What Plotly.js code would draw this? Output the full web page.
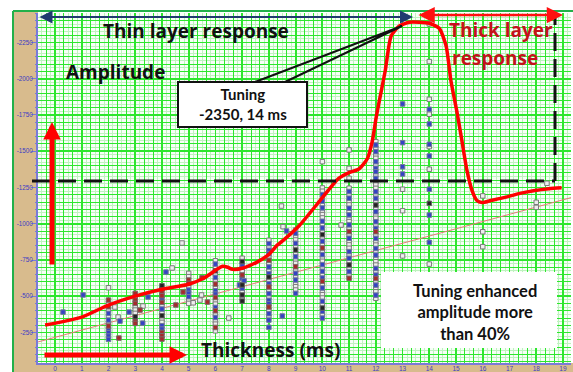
<!DOCTYPE html>
<html><head><meta charset="utf-8">
<script src="https://cdn.plot.ly/plotly-3.0.1.min.js"></script>
<style>html,body{margin:0;padding:0;background:#fff;}#chart{width:573px;height:372px;}</style>
</head><body><div id="chart"></div>
<script>
// ---------- data ----------
const xTickVals = [0,1,2,3,4,5,6,7,8,9,10,11,12,13,14,15,16,17,18,19];
const xTickText = ["0","1","2","3","4","5","6","7","8","9","10","11","12","13","14","15","16","17","18","19"];
const yTickVals = [-250,-500,-750,-1000,-1250,-1500,-1750,-2000,-2250];
const yTickText = ["-250","-500","-750","-1000","-1250","-1500","-1750","-2000","-2250"];

// red tuning curve (thickness ms, amplitude)
const curveX = [-0.37,0.3,1.0,2.0,3.0,4.0,5.0,5.56,6.06,6.27,6.46,6.64,7.0,7.54,8.0,8.3,8.4,9.14,10.0,10.6,11.0,11.38,11.68,11.87,12.01,12.13,12.35,12.57,12.87,13.25,13.62,14.0,14.37,14.63,14.81,15.04,15.22,15.41,15.6,15.78,15.97,16.3,16.79,17.35,17.9,18.47,18.95];
const curveY = [-302,-325,-356,-439,-501,-549,-583,-624,-686,-707,-700,-686,-693,-734,-789,-851,-865,-988,-1180,-1311,-1352,-1379,-1448,-1572,-1730,-1847,-2053,-2293,-2362,-2389,-2389,-2382,-2348,-2225,-1984,-1765,-1572,-1366,-1228,-1160,-1146,-1160,-1180,-1208,-1228,-1242,-1248];

// thin linear trend line
const trendX = [-0.64, 19.3];
const trendY = [-185, -1180];

// measured amplitude columns (colour codes: g grey, b blue, r red, k black)
const col2Y = [-559,-474,-451,-428,-405,-382,-359,-336,-313,-295,-272,-249,-226,-203];
const col2C = "grgrgbgbgrbbbb";
const col3Y = [-520,-497,-474,-451,-428,-405,-382,-359,-336,-313];
const col3C = "rgrrgggkrr";
const col4Y = [-573,-550,-527,-504,-481,-458,-435,-412,-389,-366,-343,-320,-297,-274,-251,-228,-205];
const col4C = "krrrbrgbgkggbbrrr";
const col5Y = [-658,-635,-612,-589,-566,-543,-520,-497,-474,-451];
const col5C = "ggrrgbbbgg";
const col6Y = [-745,-722,-699,-676,-653,-630,-607,-584,-561,-538,-515,-492,-469,-446,-423,-400,-377,-354,-331,-308,-285,-262];
const col6C = "gbgkgbgrgbbrggbrgbggrg";
const col7Y = [-762,-739,-716,-693,-670,-647,-624,-601,-578,-555,-532,-509,-486,-467];
const col7C = "gkbggrbgkbgkgk";
const col8Y = [-886,-863,-840,-817,-794,-771,-748,-725,-702,-679,-656,-633,-610,-587,-564,-541,-518,-495,-472,-449,-426,-403,-380,-357,-336,-286];
const col8C = "gbgbbgrgbgbkgbrgbgbbrgbgbb";
const col9Y = [-957,-934,-911,-888,-865,-842,-819,-796,-773,-750,-727,-704,-681,-658,-635,-612,-589,-566,-543,-520];
const col9C = "gbggbgkgbggrgbgbgggb";
const col10Y = [-1428,-1247,-1224,-1201,-1178,-1155,-1132,-1109,-1086,-1063,-1040,-1017,-994,-971,-948,-925,-902,-879,-856,-833,-810,-787,-764,-741,-718,-695,-672,-649,-626,-603,-580,-557,-534,-511,-488,-465,-442,-419,-396,-373,-350];
const col10C = "gggbgbgbgggbgbgkgbgrgbggbgbgbrgbgggbgkbgb";
const col11Y = [-1509,-1382,-1313,-1245,-1222,-1199,-1176,-1153,-1130,-1107,-1084,-1061,-1038,-1015,-992,-969,-946,-923,-900,-877,-854,-831,-808,-785,-762,-739,-716,-693,-670,-647,-624];
const col11C = "ggggbgbggbgbggbgrgbgggbgbgkgbgr";
const col12Y = [-1566,-1543,-1520,-1497,-1474,-1451,-1428,-1405,-1382,-1359,-1336,-1313,-1290,-1267,-1244,-1221,-1198,-1175,-1152,-1129,-1106,-1083,-1060,-1037,-1014,-991,-968,-945,-922,-899,-876,-853,-830,-807,-784,-761,-738,-715,-692,-669,-646,-623,-600,-577,-554,-531,-508,-486];
const col12C = "gbgbggbgbbgbgggbgbgkgbggbgbrgbggbgbgggbgbrgbggbg";
const col13Y = [-1826,-1559,-1393,-1343,-1238,-1090,-778];
const col13C = "bbbbggg";
const col14Y = [-2378,-2118,-1858,-1789,-1755,-1688,-1548,-1532,-1467,-1376,-1238,-1141,-1060,-872,-722];
const col14C = "gggbgbbgbgbkbbg";
const col16Y = [-1192,-945,-842];
const col16C = "ggg";
const col18Y = [-1148,-1113];
const col18C = "gg";
const colX = [2,3,4,5,6,7,8,9,10,11,12,13,14,16,18];

// scattered single measurements
const scatX = [0.30,1.05,2.24,2.36,2.39,2.43,2.77,3.18,3.28,3.29,3.48,4.15,4.38,4.52,4.75,4.79,5.17,5.42,5.48,5.50,5.70,6.50,6.90,7.07,8.47,8.53,8.66,8.50,10.7,18.4];
const scatY = [-391,-509,-426,-357,-212,-329,-391,-405,-315,-433,-495,-667,-695,-440,-867,-529,-455,-474,-509,-628,-460,-350,-578,-607,-1122,-980,-950,-364,-991,-1279];
const scatC = "bbggrbbrbgbbgrgrgggrrgbbggbbgg";

// ---------- build marker traces ----------
const colsY = [col2Y,col3Y,col4Y,col5Y,col6Y,col7Y,col8Y,col9Y,col10Y,col11Y,col12Y,col13Y,col14Y,col16Y,col18Y];
const colsC = [col2C,col3C,col4C,col5C,col6C,col7C,col8C,col9C,col10C,col11C,col12C,col13C,col14C,col16C,col18C];
const groups = {g:{x:[],y:[]}, b:{x:[],y:[]}, r:{x:[],y:[]}, k:{x:[],y:[]}};
colsY.forEach((ys,i)=>{ ys.forEach((v,j)=>{ const c = groups[colsC[i][j]] ? colsC[i][j] : 'g'; groups[c].x.push(colX[i]); groups[c].y.push(v); }); });
scatX.forEach((xv,j)=>{ const c = groups[scatC[j]] ? scatC[j] : 'g'; groups[c].x.push(xv); groups[c].y.push(scatY[j]); });
const styles = {
  g:{color:'#eeeeee', line:'#7a7a7a'},
  b:{color:'#3442c4', line:'#707a9a'},
  r:{color:'#a52a2a', line:'#7a6a6a'},
  k:{color:'#222222', line:'#666666'}
};

const traces = [];
traces.push({x:[null],y:[null],xaxis:'x2',yaxis:'y2',mode:'markers',hoverinfo:'skip',showlegend:false});
traces.push({x:trendX,y:trendY,mode:'lines',line:{color:'#e87878',width:1},hoverinfo:'skip',showlegend:false});
['g','b','r','k'].forEach(k=>{
  traces.push({x:groups[k].x,y:groups[k].y,mode:'markers',showlegend:false,hoverinfo:'skip',
    marker:{symbol:'square',size:4.5,color:styles[k].color,line:{color:styles[k].line,width:1}}});
});
traces.push({x:curveX,y:curveY,mode:'lines',line:{color:'#ff0000',width:3.5,shape:'spline',smoothing:0.6},hoverinfo:'skip',showlegend:false});

// ---------- layout ----------
const L=38, R=571, T=13, B=363;
const px = v => (v-L)/(R-L);
const py = v => (B-v)/(B-T);
const rangeX = [-0.636, 19.30];
const rangeY = [-40, -2453];
const bright = '#2ee62e', light = '#bff2bf', axisCol = '#7a7ad8', lblCol = '#3b3bc4';
const bigFont = (s,c)=>({family:'"Open Sans", Lato, sans-serif', size:s, color:c||'#111', weight:700});
const smallFont = (s,c)=>({family:'Lato, "Open Sans", sans-serif', size:s, color:c||'#111', weight:700});

const layout = {
  width:573, height:372,
  margin:{l:L, r:573-R, t:T, b:372-B, pad:0},
  paper_bgcolor:'#ffffff', plot_bgcolor:'#f6fff6',
  showlegend:false,
  xaxis:{range:rangeX, tickmode:'array', tickvals:xTickVals, ticktext:xTickText,
    showgrid:true, gridcolor:bright, gridwidth:1.8, zeroline:false,
    showline:true, linecolor:axisCol, linewidth:1.5, ticks:'', ticklabelstandoff:-1,
    tickfont:{family:'Liberation Sans, Arial', size:6.5, color:lblCol}},
  yaxis:{range:rangeY, tickmode:'array', tickvals:yTickVals, ticktext:yTickText,
    showgrid:true, gridcolor:bright, gridwidth:1.8, zeroline:false,
    showline:true, linecolor:axisCol, linewidth:2, ticks:'outside', ticklen:5, tickcolor:axisCol,
    ticklabelstandoff:-3,
    tickfont:{family:'Liberation Sans, Arial', size:6.3, color:lblCol}},
  xaxis2:{overlaying:'x', range:rangeX, tickmode:'linear', tick0:0, dtick:1/3, showticklabels:false, ticks:'',
    showgrid:true, gridcolor:bright, gridwidth:1, zeroline:false, showline:false,
    minor:{tickmode:'linear', tick0:0, dtick:1/6, showgrid:true, gridcolor:light, gridwidth:1}},
  yaxis2:{overlaying:'y', range:rangeY, tickmode:'linear', tick0:0, dtick:50, showticklabels:false,
    ticks:'outside', ticklen:2, tickcolor:axisCol,
    showgrid:true, gridcolor:bright, gridwidth:1, zeroline:false, showline:false,
    minor:{tickmode:'linear', tick0:0, dtick:25, showgrid:true, gridcolor:light, gridwidth:1}},
  shapes:[
    // tan strips
    {type:'rect', xref:'paper', yref:'paper', x0:px(14), x1:0, y0:py(372), y1:py(12), fillcolor:'#d8bb8d', line:{width:0}, layer:'below'},
    {type:'rect', xref:'paper', yref:'paper', x0:px(14), x1:px(573), y0:py(372), y1:0, fillcolor:'#d8bb8d', line:{width:0}, layer:'below'},
    // green frame
    {type:'line', xref:'paper', yref:'paper', x0:px(13), x1:px(13), y0:py(372), y1:py(11), line:{color:'#22b04a', width:2}, layer:'above'},
    {type:'line', xref:'paper', yref:'paper', x0:px(13), x1:px(573), y0:py(11), y1:py(11), line:{color:'#22b04a', width:2}, layer:'above'},
    // dashed tuning threshold
    {type:'line', xref:'paper', yref:'paper', x0:px(32), x1:px(555), y0:py(181), y1:py(181), line:{color:'#111', width:3, dash:'18px,8px'}, layer:'above'},
    {type:'line', xref:'paper', yref:'paper', x0:px(555), x1:px(555), y0:py(181), y1:py(14), line:{color:'#111', width:3, dash:'18px,8px'}, layer:'above'},
    // callout pointer
    {type:'path', xref:'paper', yref:'paper', path:`M ${px(255)},${py(82)} L ${px(402)},${py(26)} L ${px(285)},${py(82)}`, line:{color:'#111', width:2}, layer:'above'},
    // callout box
    {type:'rect', xref:'paper', yref:'paper', x0:px(178), x1:px(307), y0:py(127), y1:py(82), fillcolor:'#ffffff', line:{color:'#111', width:2}, layer:'above'},
    // white note box
    {type:'rect', xref:'paper', yref:'paper', x0:px(381), x1:px(557), y0:py(348), y1:py(272), fillcolor:'#ffffff', line:{width:0}, layer:'above'}
  ],
  annotations:[
    {xref:'paper', yref:'paper', x:px(196), y:py(31), text:'Thin layer response', showarrow:false, xanchor:'center', yanchor:'middle', font:bigFont(19)},
    {xref:'paper', yref:'paper', x:px(115), y:py(72), text:'Amplitude', showarrow:false, xanchor:'center', yanchor:'middle', font:bigFont(19)},
    {xref:'paper', yref:'paper', x:px(447), y:py(30), text:'Thick layer', showarrow:false, xanchor:'left', yanchor:'middle', font:bigFont(19,'#c4111b')},
    {xref:'paper', yref:'paper', x:px(450), y:py(58), text:'response', showarrow:false, xanchor:'left', yanchor:'middle', font:bigFont(19,'#c4111b')},
    {xref:'paper', yref:'paper', x:px(270), y:py(350), text:'Thickness (ms)', showarrow:false, xanchor:'center', yanchor:'middle', font:bigFont(19)},
    {xref:'paper', yref:'paper', x:px(243), y:py(104), text:'Tuning<br>-2350, 14 ms', showarrow:false, xanchor:'center', yanchor:'middle', font:smallFont(15)},
    {xref:'paper', yref:'paper', x:px(475), y:py(312), text:'Tuning enhanced<br>amplitude more<br>than 40%', showarrow:false, xanchor:'center', yanchor:'middle', font:smallFont(16.5)},
    // arrows
    {xref:'paper', yref:'paper', x:px(52), y:py(122), ax:0, ay:144, text:'', showarrow:true, arrowhead:2, arrowsize:0.7, arrowwidth:5, arrowcolor:'#ff0000', standoff:0},
    {xref:'paper', yref:'paper', x:px(187), y:py(355), ax:-144, ay:0, text:'', showarrow:true, arrowhead:2, arrowsize:0.7, arrowwidth:5, arrowcolor:'#ff0000', standoff:0},
    {xref:'paper', yref:'paper', x:px(413), y:py(17), ax:-375, ay:0, text:'', showarrow:true, arrowside:'end+start', arrowhead:2, startarrowhead:2, arrowsize:1.3, startarrowsize:1.3, arrowwidth:2, arrowcolor:'#1f3a70', standoff:0, startstandoff:0},
    {xref:'paper', yref:'paper', x:px(563), y:py(15), ax:-146, ay:0, text:'', showarrow:true, arrowside:'end+start', arrowhead:2, startarrowhead:2, arrowsize:1.3, startarrowsize:1.3, arrowwidth:2.5, arrowcolor:'#ff1010', standoff:0, startstandoff:0}
  ]
};

Plotly.newPlot('chart', traces, layout, {displayModeBar:false, staticPlot:true});
</script>
</body></html>
